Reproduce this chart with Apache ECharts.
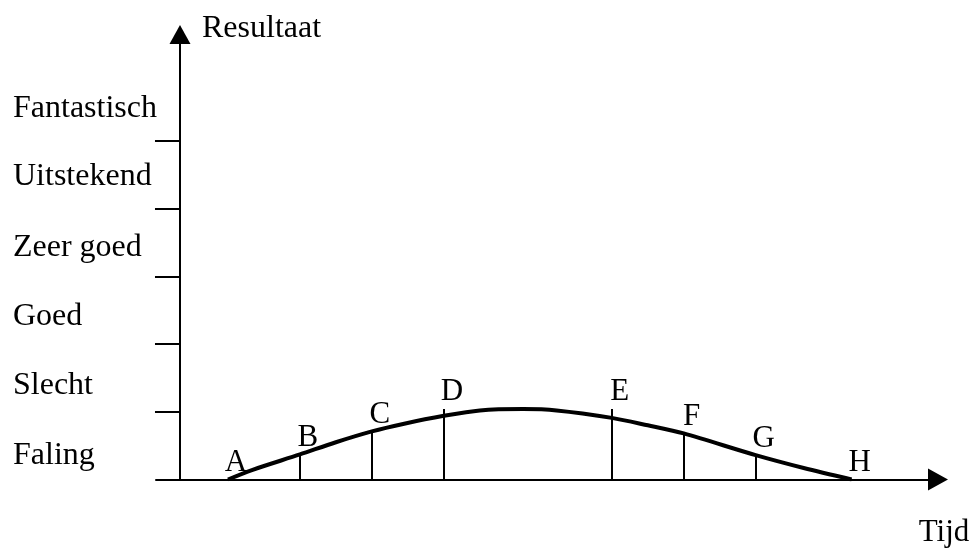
<!DOCTYPE html>
<html>
<head>
<meta charset="utf-8">
<script src="https://cdn.jsdelivr.net/npm/echarts@6/dist/echarts.min.js"></script>
<style>
  html, body { margin: 0; padding: 0; background: #fff; }
  #chart { width: 973px; height: 550px; }
</style>
</head>
<body>
<div id="chart"></div>
<script>
// Result levels along the vertical axis (bottom to top)
const levelNames = ['Faling', 'Slecht', 'Goed', 'Zeer goed', 'Uitstekend', 'Fantastisch'];
const levelLabelAt = [0.36, 1.39, 2.41, 3.43, 4.47, 5.47];
const levelTicks = [1, 2, 3, 4, 5];

// Moments in time marked on the curve
const pointNames = ['A', 'B', 'C', 'D', 'E', 'F', 'G', 'H'];
const pointTimes = [2, 5, 8, 11, 18, 21, 24, 28];
const markerHeights = [0, 0.37, 0.71, 1.04, 1.04, 0.67, 0.35, 0];

// Result curve over time
const curveTimes = [2, 3, 5, 6.5, 8, 9.3, 11, 12.5, 14.3, 15.7, 18, 19.5, 21, 24, 26, 28];
const curveValues = [0, 0.14, 0.37, 0.55, 0.71, 0.82, 0.94, 1.02, 1.04, 1.02, 0.91, 0.8, 0.68, 0.36, 0.17, 0];

const FONT = "'Liberation Serif', 'Times New Roman', serif";
const INK = '#000';

const chart = echarts.init(document.getElementById('chart'), null, { renderer: 'canvas' });

const curveData = curveTimes.map((t, i) => [t, curveValues[i]]);
const markerLines = pointTimes
  .map((t, i) => ({ t, h: markerHeights[i] }))
  .filter(m => m.h > 0)
  .map(m => [{ coord: [m.t, 0] }, { coord: [m.t, m.h] }]);
const pointData = pointTimes.map((t, i) => ({ name: pointNames[i], value: [t, markerHeights[i]] }));

chart.setOption({
  animation: false,
  backgroundColor: '#fff',
  grid: {
    left: 156, right: 35, top: 34.5, bottom: 70.5,
    containLabel: false,
    outerBoundsMode: 'none'
  },
  xAxis: {
    type: 'value',
    min: -1,
    max: 31.6,
    name: 'Tijd',
    nameLocation: 'end',
    nameGap: 0,
    nameTextStyle: {
      fontFamily: FONT, fontSize: 31, color: INK,
      align: 'center', verticalAlign: 'top', padding: [38, 0, 0, 12]
    },
    axisLine: {
      onZero: true,
      symbol: ['none', 'triangle'],
      symbolSize: [22, 20],
      lineStyle: { color: INK, width: 2 }
    },
    axisTick: { show: false },
    axisLabel: { show: false },
    splitLine: { show: false }
  },
  yAxis: {
    type: 'value',
    min: 0,
    max: 6.57,
    name: 'Resultaat',
    nameLocation: 'end',
    nameGap: 6,
    nameTextStyle: {
      fontFamily: FONT, fontSize: 32, color: INK,
      align: 'left', verticalAlign: 'middle', padding: [0, 0, 0, 22]
    },
    axisLine: {
      onZero: true,
      symbol: ['none', 'triangle'],
      symbolSize: [21, 19],
      lineStyle: { color: INK, width: 2 }
    },
    axisTick: {
      show: true,
      customValues: levelTicks,
      length: 25,
      inside: false,
      lineStyle: { color: INK, width: 2 }
    },
    axisLabel: {
      show: true,
      customValues: levelLabelAt,
      formatter: v => {
        const i = levelLabelAt.findIndex(x => Math.abs(x - v) < 1e-6);
        return i >= 0 ? levelNames[i] : '';
      },
      align: 'left',
      margin: 143,
      fontFamily: FONT,
      fontSize: 32,
      color: INK
    },
    splitLine: { show: false }
  },
  series: [
    {
      type: 'line',
      data: curveData,
      smooth: 0.3,
      symbol: 'none',
      lineStyle: { color: INK, width: 4 },
      markLine: {
        silent: true,
        symbol: ['none', 'none'],
        label: { show: false },
        lineStyle: { color: INK, width: 2, type: 'solid' },
        data: markerLines
      },
      z: 3
    },
    {
      type: 'scatter',
      data: pointData,
      symbolSize: 1,
      itemStyle: { color: 'rgba(0,0,0,0)', opacity: 1 },
      label: {
        show: true,
        position: 'top',
        distance: 0,
        offset: [8, -1],
        formatter: p => p.name,
        fontFamily: FONT,
        fontSize: 31,
        color: INK,
        opacity: 1,
        textBorderWidth: 0
      },
      z: 4
    }
  ]
});
</script>
</body>
</html>
